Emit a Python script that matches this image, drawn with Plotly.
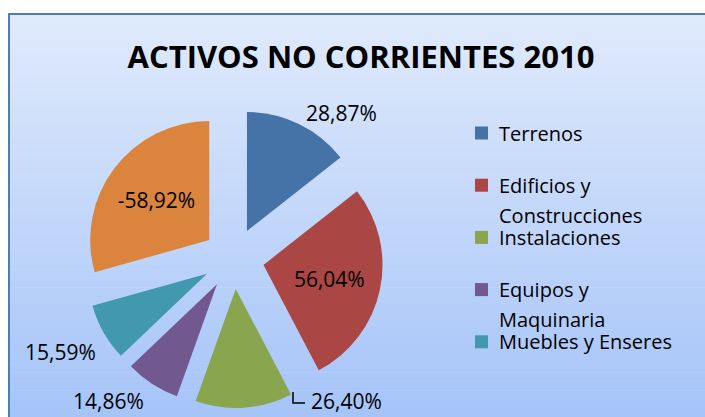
import plotly.graph_objects as go

# ---------------- data ----------------
categories = ["Terrenos", "Edificios y Construcciones", "Instalaciones",
              "Equipos y Maquinaria", "Muebles y Enseres", "Depreciación Acumulada"]
values = [28.87, 56.04, 26.40, 14.86, 15.59, -58.92]
legend_labels = ["Terrenos", "Edificios y<br>Construcciones", "Instalaciones",
                 "Equipos y<br>Maquinaria", "Muebles y Enseres"]
title_text = "ACTIVOS NO CORRIENTES 2010"

colors = ["#4572A7", "#AA4643", "#89A54E", "#71588F", "#4198AF", "#DB843D"]

W, H = 705, 417
FONT = "Open Sans"


def px(x):
    return x / W


def py(y):
    return 1 - y / H


def fmt(v):
    return f"{v:.2f}%".replace(".", ",")


pct_text = [fmt(v) for v in values]

# pie geometry (pixels)
cx, cy, r, pull = 233.6, 258.5, 119.0, 0.257
half = r * (1 + pull)

fig = go.Figure()

fig.add_trace(go.Pie(
    labels=categories,
    values=[abs(v) for v in values],
    customdata=pct_text,
    texttemplate="%{customdata}",
    textposition=["outside", "inside", "none", "none", "none", "inside"],
    insidetextorientation="horizontal",
    textfont=dict(family=FONT, size=21, color="#000000"),
    outsidetextfont=dict(family=FONT, size=21, color="#000000"),
    marker=dict(colors=colors, line=dict(width=0)),
    pull=[pull] * len(values),
    sort=False,
    direction="clockwise",
    rotation=0,
    showlegend=False,
    automargin=False,
    hoverinfo="label+text",
    domain=dict(x=[px(cx - half), px(cx + half)], y=[py(cy + half), py(cy - half)]),
))

shapes = []
# gradient background of the chart area
top_c = (224, 234, 252)
bot_c = (165, 196, 248)
y_top, y_bot = 14, H
nb = 90
for i in range(nb):
    t = i / (nb - 1)
    c = tuple(round(top_c[k] + (bot_c[k] - top_c[k]) * t) for k in range(3))
    y0 = y_top + (y_bot - y_top) * i / nb
    y1 = y_top + (y_bot - y_top) * (i + 1) / nb + 0.6
    shapes.append(dict(type="rect", xref="paper", yref="paper", layer="below",
                       x0=px(9), x1=1.0, y0=py(min(y1, H)), y1=py(y0),
                       fillcolor="rgb(%d,%d,%d)" % c, line=dict(width=0)))
# frame border (left and top edges; the frame continues past the window)
shapes.append(dict(type="path", xref="paper", yref="paper", layer="above",
                   path="M %f,%f L %f,%f L %f,%f" % (px(9), 0, px(9), py(14), 1, py(14)),
                   line=dict(color="#4A7EBB", width=2)))

annotations = []
# legend (first five categories)
leg_x_sq, leg_sq, leg_x_txt = 475, 13, 497
leg_y0, leg_dy, line_dy = 133, 52.2, 30
for i, lab in enumerate(legend_labels):
    yc = leg_y0 + leg_dy * i
    shapes.append(dict(type="rect", xref="paper", yref="paper",
                       x0=px(leg_x_sq), x1=px(leg_x_sq + leg_sq),
                       y0=py(yc + leg_sq / 2), y1=py(yc - leg_sq / 2),
                       fillcolor=colors[i], line=dict(width=0)))
    for j, part in enumerate(lab.split("<br>")):
        annotations.append(dict(xref="paper", yref="paper", x=px(leg_x_txt),
                                y=py(yc + j * line_dy), text=part, showarrow=False,
                                xanchor="left", yanchor="middle",
                                font=dict(family=FONT, size=20, color="#000000")))

# data labels for the lower slices
label_pos = {2: (346, 401), 3: (108, 401), 4: (60, 352)}
for idx, (lx, ly) in label_pos.items():
    annotations.append(dict(xref="paper", yref="paper", x=px(lx), y=py(ly),
                            text=pct_text[idx], showarrow=False,
                            xanchor="center", yanchor="middle",
                            font=dict(family=FONT, size=21, color="#000000")))
# leader line for Instalaciones
shapes.append(dict(type="path", xref="paper", yref="paper",
                   path="M %f,%f L %f,%f L %f,%f" % (px(293), py(392), px(293), py(403),
                                                      px(305), py(403)),
                   line=dict(color="#000000", width=1.5)))

fig.update_layout(
    width=W, height=H, autosize=False,
    margin=dict(l=0, r=0, t=0, b=0, autoexpand=False),
    paper_bgcolor="#FFFFFF",
    plot_bgcolor="#FFFFFF",
    title=dict(text="<b>" + title_text + "</b>", x=px(361), y=py(57),
               xref="paper", yref="container", xanchor="center", yanchor="middle",
               automargin=False,
               font=dict(family=FONT, size=31, color="#000000")),
    shapes=shapes,
    annotations=annotations,
)

fig.write_html(
    "out.html",
    config={"responsive": False, "displayModeBar": False},
    post_script="document.body.style.margin='0';",
)
